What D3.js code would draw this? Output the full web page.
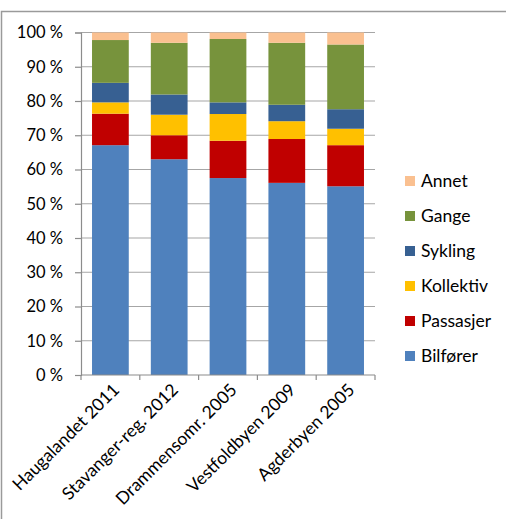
<!DOCTYPE html>
<html>
<head>
<meta charset="utf-8">
<script src="https://cdn.jsdelivr.net/npm/d3@7"></script>
<style>
  body { margin: 0; background: #fff; }
  svg { display: block; font-family: Lato, "Open Sans", sans-serif; }
</style>
</head>
<body>
<svg id="chart" width="506" height="519"></svg>
<script>
// Travel mode shares (%) per area, bottom-to-top stacking order
const categories = ["Haugalandet 2011", "Stavanger-reg. 2012", "Drammensomr. 2005", "Vestfoldbyen 2009", "Agderbyen 2005"];
const seriesNames = ["Bilfører", "Passasjer", "Kollektiv", "Sykling", "Gange", "Annet"];
const bilforer  = [67.1, 63.0, 57.5, 56.1, 55.1];
const passasjer = [9.2, 7.0, 10.9, 12.8, 12.0];
const kollektiv = [3.3, 6.0, 7.8, 5.2, 4.8];
const sykling   = [5.7, 5.9, 3.4, 4.8, 5.7];
const gange     = [12.5, 15.1, 18.5, 18.1, 18.9];
const annet     = [2.2, 3.0, 1.9, 3.0, 3.5];
const yTicks = [0, 10, 20, 30, 40, 50, 60, 70, 80, 90, 100];
const colors = ["#4F81BD", "#C00000", "#FFC000", "#376092", "#77933C", "#FAC090"];

const seriesValues = [bilforer, passasjer, kollektiv, sykling, gange, annet];
const rows = categories.map((c, i) => {
  const r = { category: c };
  seriesNames.forEach((s, j) => r[s] = seriesValues[j][i]);
  return r;
});

const svg = d3.select("#chart");
const margin = { left: 81, right: 131, top: 32.5, bottom: 144 };
const W = 506, H = 519;

// outer chart frame
svg.append("rect")
  .attr("x", 1.5).attr("y", 11.5)
  .attr("width", W + 10).attr("height", H + 10)
  .attr("fill", "none").attr("stroke", "#9a9a9a").attr("stroke-width", 1.5);

const x = d3.scaleBand().domain(categories)
  .range([margin.left, W - margin.right]).paddingInner(0.375).paddingOuter(0.1875);
const y = d3.scaleLinear().domain([0, 100]).range([H - margin.bottom, margin.top]);

// horizontal gridlines
svg.append("g").selectAll("line").data(yTicks.filter(t => t > 0)).join("line")
  .attr("x1", margin.left).attr("x2", W - margin.right)
  .attr("y1", d => y(d)).attr("y2", d => y(d))
  .attr("stroke", "#a6a6a6").attr("stroke-width", 1.2);

const stack = d3.stack().keys(seriesNames)(rows);
svg.append("g").selectAll("g").data(stack).join("g")
  .attr("fill", (d, i) => colors[i])
  .selectAll("rect").data(d => d).join("rect")
  .attr("x", d => x(d.data.category))
  .attr("width", x.bandwidth())
  .attr("y", d => y(d[1]))
  .attr("height", d => y(d[0]) - y(d[1]));

// y axis
const yAxis = d3.axisLeft(y).tickValues(yTicks).tickSize(6).tickPadding(12)
  .tickFormat(d => d + " %");
const gy = svg.append("g").attr("transform", `translate(${margin.left},0)`).call(yAxis);
gy.select(".domain").attr("stroke", "#8c8c8c").attr("stroke-width", 1.2);
gy.selectAll(".tick line").attr("stroke", "#8c8c8c").attr("stroke-width", 1.2);
gy.selectAll(".tick text").attr("font-size", 16.5).attr("fill", "#000")
  .attr("font-family", "Lato, sans-serif");

// x axis: ticks at category boundaries
const boundaries = d3.range(categories.length + 1).map(i => margin.left + i * (W - margin.left - margin.right) / categories.length);
const gx = svg.append("g");
gx.append("line")
  .attr("x1", margin.left).attr("x2", W - margin.right)
  .attr("y1", y(0)).attr("y2", y(0))
  .attr("stroke", "#8c8c8c").attr("stroke-width", 1.2);
gx.selectAll("line.tk").data(boundaries).join("line").attr("class", "tk")
  .attr("x1", d => d).attr("x2", d => d)
  .attr("y1", y(0)).attr("y2", y(0) + 5)
  .attr("stroke", "#8c8c8c").attr("stroke-width", 1.2);
gx.selectAll("text").data(categories).join("text")
  .attr("transform", d => `translate(${x(d) + x.bandwidth() / 2 + 10},${y(0) + 16}) rotate(-45)`)
  .attr("text-anchor", "end")
  .attr("font-size", 17.5)
  .attr("fill", "#000")
  .text(d => d);

// legend, top entry is the top of the stack
const legendItems = seriesNames.slice().reverse();
const lg = svg.append("g").selectAll("g").data(legendItems).join("g")
  .attr("transform", (d, i) => `translate(405,${181 + i * 35})`);
lg.append("rect").attr("x", 0).attr("y", -5).attr("width", 10).attr("height", 10)
  .attr("fill", d => colors[seriesNames.indexOf(d)]);
lg.append("text").attr("x", 16).attr("y", 0).attr("dy", "0.35em")
  .attr("font-size", 17.5).attr("fill", "#000").text(d => d);
</script>
</body>
</html>
